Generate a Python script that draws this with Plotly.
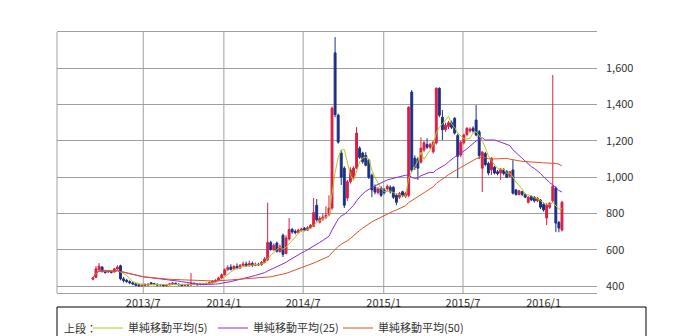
import pandas as pd
import plotly.graph_objects as go

# Weekly candles (dated by week), 2013/3 - 2016/2
weeks = pd.date_range("2013-03-08", periods=154, freq="7D")

opens = [
    438, 448, 490, 505, 482, 478, 480, 478, 494, 512,
    440, 432, 425, 418, 412, 406, 402, 408, 405, 418,
    413, 410, 406, 407, 403, 407, 412, 415, 410, 408,
    404, 408, 406, 415, 410, 408, 412, 410, 414, 420,
    425, 432, 445, 462, 490, 505, 495, 508, 500, 515,
    522, 512, 525, 515, 520, 518, 530, 545, 640, 600,
    637, 590, 680, 580, 660, 712, 702, 695, 706, 718,
    708, 720, 730, 845, 752, 770, 780, 795, 830, 1685,
    1342, 1133, 1050, 885, 975, 1000, 1050, 1160, 1133, 1120,
    1094, 1011, 945, 915, 940, 930, 935, 945, 945, 900,
    890, 920, 895, 900, 1469, 1105, 1100, 1083, 1150, 1180,
    1165, 1140, 1188, 1490, 1330, 1262, 1280, 1300, 1325, 1230,
    1122, 1190, 1235, 1255, 1270, 1315, 1250, 1050, 1130, 1075,
    1040, 1055, 1030, 1023, 1040, 1030, 1005, 1040, 930, 905,
    920, 905, 862, 895, 890, 870, 874, 850, 775, 835,
    870, 940, 750, 709,
]
highs = [
    450, 510, 527, 510, 490, 488, 485, 500, 515, 518,
    450, 440, 432, 425, 418, 412, 414, 415, 416, 422,
    418, 414, 412, 411, 412, 416, 422, 420, 415, 412,
    412, 414, 472, 420, 415, 418, 417, 420, 426, 432,
    438, 452, 470, 498, 515, 520, 515, 525, 522, 535,
    535, 540, 535, 530, 528, 538, 560, 860, 650, 635,
    645, 630, 690, 680, 775, 720, 712, 716, 722, 726,
    730, 742, 885, 880, 785, 800, 840, 900, 1390, 1772,
    1350, 1150, 1060, 985, 1055, 1060, 1276, 1170, 1140, 1138,
    1100, 1020, 960, 945, 950, 940, 960, 955, 950, 910,
    918, 925, 920, 1390, 1480, 1120, 1110, 1220, 1200, 1215,
    1190, 1200, 1495, 1495, 1370, 1300, 1310, 1312, 1330, 1240,
    1200, 1240, 1275, 1275, 1280, 1397, 1260, 1145, 1140, 1085,
    1110, 1062, 1040, 1050, 1050, 1040, 1035, 1094, 935, 930,
    925, 910, 895, 900, 895, 890, 880, 860, 857, 862,
    1563, 950, 760, 870,
]
lows = [
    432, 445, 485, 475, 468, 472, 470, 475, 490, 432,
    420, 418, 410, 405, 400, 396, 398, 400, 402, 408,
    405, 400, 400, 398, 398, 404, 408, 405, 402, 399,
    400, 400, 402, 405, 402, 404, 405, 406, 410, 415,
    420, 428, 440, 458, 485, 486, 488, 492, 495, 508,
    506, 508, 505, 510, 512, 512, 525, 538, 595, 595,
    585, 585, 560, 575, 650, 688, 685, 690, 700, 702,
    704, 715, 725, 755, 745, 760, 770, 785, 820, 1330,
    1185, 957, 830, 870, 965, 990, 1045, 1100, 1075, 1060,
    990, 890, 905, 905, 890, 905, 925, 910, 880, 846,
    880, 890, 885, 890, 1030, 1040, 985, 1075, 1140, 1155,
    1155, 1130, 1180, 1330, 1205, 1250, 1265, 1265, 1235, 995,
    1110, 1180, 1225, 1245, 1245, 1225, 1100, 918, 1060, 1010,
    1012, 1015, 1010, 985, 1010, 995, 998, 905, 898, 900,
    895, 885, 855, 868, 860, 862, 825, 810, 736, 825,
    860, 697, 697, 700,
]
closes = [
    445, 495, 510, 480, 475, 481, 476, 495, 505, 440,
    430, 425, 418, 412, 405, 402, 408, 404, 410, 412,
    410, 406, 408, 403, 407, 412, 416, 410, 408, 404,
    408, 405, 416, 410, 408, 412, 410, 414, 420, 426,
    432, 445, 462, 490, 502, 492, 508, 498, 515, 522,
    512, 525, 515, 520, 517, 530, 550, 640, 602, 625,
    592, 618, 575, 665, 712, 698, 695, 708, 715, 708,
    722, 735, 805, 765, 772, 780, 790, 830, 1380, 1345,
    1193, 1000, 846, 975, 1040, 1050, 1243, 1110, 1085, 1066,
    1000, 930, 918, 935, 900, 915, 950, 920, 890, 862,
    910, 900, 912, 1386, 1039, 1055, 1050, 1160, 1190, 1165,
    1180, 1193, 1490, 1342, 1262, 1287, 1300, 1275, 1243, 1115,
    1193, 1232, 1270, 1265, 1255, 1232, 1120, 1138, 1070, 1023,
    1105, 1023, 1020, 1045, 1020, 1000, 1030, 912, 905, 925,
    905, 890, 890, 875, 870, 885, 835, 820, 845, 857,
    950, 747, 720, 862,
]

ma_windows = [5, 25, 50]
ma_names = ["単純移動平均(5)", "単純移動平均(25)", "単純移動平均(50)"]
ma_colors = ["#b4c81e", "#8a2be2", "#e0531f"]

tick_dates = ["2013-07-01", "2014-01-01", "2014-07-01", "2015-01-01", "2015-07-01", "2016-01-01"]
tick_text = ["2013/7", "2014/1", "2014/7", "2015/1", "2015/7", "2016/1"]
grid_dates = tick_dates[:5]
y_ticks = [400, 600, 800, 1000, 1200, 1400, 1600]

UP = "#dc1e46"
DOWN = "#1c2f85"
GRID = "#a0a0a0"

fig = go.Figure()
fig.add_trace(go.Candlestick(
    x=weeks, open=opens, high=highs, low=lows, close=closes,
    increasing=dict(line=dict(color=UP, width=1), fillcolor=UP),
    decreasing=dict(line=dict(color=DOWN, width=1), fillcolor=DOWN),
    whiskerwidth=0, showlegend=False, hoverinfo="skip",
))
close_s = pd.Series(closes, index=weeks)
for w, name, col in zip(ma_windows, ma_names, ma_colors):
    fig.add_trace(go.Scatter(
        x=weeks, y=close_s.rolling(w, min_periods=1).mean(),
        mode="lines", name=name, line=dict(color=col, width=1),
        hoverinfo="skip",
    ))

for d in grid_dates:
    fig.add_shape(type="line", x0=d, x1=d, y0=0, y1=1, yref="paper",
                  line=dict(color=GRID, width=1), layer="below")
fig.add_shape(type="line", x0=0, x1=0, y0=0, y1=1, xref="paper", yref="paper",
              line=dict(color=GRID, width=1), layer="below")
# legend frame
fig.add_shape(type="rect", xref="paper", yref="paper",
              x0=0, x1=(646 - 57) / 261 * 261 / 540, y0=-0.2, y1=(293 - 307) / 261,
              line=dict(color="#000000", width=1))
fig.add_annotation(text="上段：", xref="paper", yref="paper",
                   x=(62 - 57) / 540, y=(293 - 328) / 261,
                   xanchor="left", yanchor="middle", showarrow=False,
                   font=dict(size=11, color="#333333"))

fig.update_layout(
    width=700, height=336,
    margin=dict(l=57, r=103, t=32, b=43, autoexpand=False),
    paper_bgcolor="white", plot_bgcolor="white",
    font=dict(family="Noto Sans CJK JP, sans-serif", size=11, color="#333333"),
    boxgap=0.12,
    xaxis=dict(type="date", range=["2012-12-16", "2016-05-02"],
               rangeslider=dict(visible=False),
               tickvals=tick_dates, ticktext=tick_text,
               showgrid=False, showline=True, mirror=True,
               linecolor=GRID, linewidth=1, ticks="", zeroline=False),
    yaxis=dict(side="right", range=[362, 1800], tickvals=y_ticks,
               tickformat=",", showgrid=True, gridcolor=GRID, gridwidth=1,
               zeroline=False, ticks="", showline=False,
               ticklabelstandoff=8),
    legend=dict(orientation="h", x=(88 - 57) / 540, y=(293 - 328) / 261,
                xanchor="left", yanchor="middle", bgcolor="rgba(0,0,0,0)",
                font=dict(size=11), entrywidth=80, entrywidthmode="pixels",
                itemwidth=30),
    showlegend=True,
)

fig.write_html("out.html")
